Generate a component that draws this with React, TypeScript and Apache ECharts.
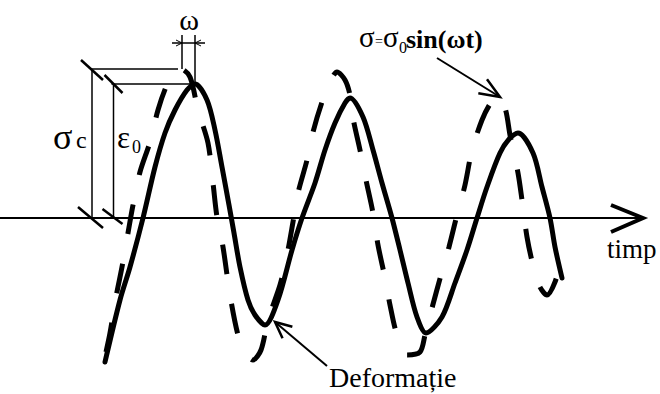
import React, { useEffect, useRef } from "react";
import * as echarts from "echarts";

// Applied stress σ = σ0·sin(ωt) (dashed curve)
const stressTime = [
  10.6, 11.0, 11.6, 12.2, 12.8, 13.3, 14.0, 15.0, 15.8, 16.6, 17.4, 18.1, 19.0, 19.8, 20.8,
  21.3, 21.7, 22.3, 23.0, 23.8, 24.5, 25.3, 26.1, 26.8, 28.0, 28.7, 29.3, 29.8, 30.7, 31.3,
  32.2, 33.0, 33.7, 34.5, 35.0, 35.3, 36.0, 36.6, 37.3, 37.8, 38.5, 39.0, 39.7, 40.7, 42.0,
  42.5, 43.2, 44.1, 44.9, 45.7, 46.5, 47.2, 48.2, 49.0, 49.7, 50.5, 51.0, 51.8, 52.2, 52.7,
  53.3, 54.0, 54.7, 55.5, 56.2,
];
const stressValue = [
  -13.4, -11.5, -7.9, -4.9, -1.5, 1.3, 4.6, 7.6, 10.8, 13.1, 14.5, 14.9, 14.1, 10.8, 7.5,
  3.5, 0.1, -2.9, -7.7, -11.7, -13.4, -14.2, -13.2, -10.2, -6.7, -3.7, -0.4, 2.5, 5.8, 8.6,
  11.6, 13.6, 14.6, 13.8, 12.3, 10.0, 6.8, 3.8, 0.5, -2.7, -6.0, -8.7, -11.7, -13.7, -13.4,
  -11.7, -9.0, -5.7, -2.9, 0.3, 3.3, 6.8, 9.8, 11.4, 12.2, 11.0, 8.3, 4.5, 1.8, -1.9,
  -4.7, -6.9, -7.7, -6.4, -3.9,
];

// Resulting deformation ε(t), lagging the stress (solid curve)
const strainTime = [
  10.5, 12.0, 13.0, 14.3, 15.5, 16.5, 17.5, 18.7, 19.5, 20.7, 21.5, 22.2, 22.9, 23.4, 24.0,
  24.8, 25.5, 26.5, 27.8, 29.2, 30.2, 31.5, 32.5, 33.5, 34.5, 35.0, 36.3, 37.3, 38.2, 39.2,
  40.0, 40.8, 41.7, 42.6, 44.2, 45.5, 46.7, 47.7, 48.7, 50.0, 51.0, 51.8, 53.3, 54.2, 55.0,
  55.5, 56.2,
];
const strainValue = [
  -14.4, -8.2, -4.9, 0.0, 5.1, 8.5, 10.8, 12.8, 13.4, 11.8, 8.8, 5.1, 1.3, -1.5, -4.9,
  -8.2, -9.7, -10.7, -8.2, -3.2, 0.0, 3.5, 6.8, 9.5, 11.5, 12.0, 10.1, 6.8, 3.5, 0.0,
  -3.2, -6.5, -9.9, -11.5, -9.9, -6.5, -3.2, 0.0, 3.1, 6.5, 8.0, 8.5, 6.5, 3.1, 0.0,
  -2.9, -6.0,
];

// Time axis and annotation levels (same units as the curves)
const axisEnd = 64.3;
const omegaTop = 18.3;
const omegaDimLevel = 17.5;
const sigmaBracketT = 9.2;
const epsBracketT = 11.35;

const FONT = '"Liberation Serif", "Times New Roman", serif';

type Pt = [number, number];

const seg = (a: Pt, b: Pt, w: number) => ({
  type: "line",
  silent: true,
  shape: { x1: a[0], y1: a[1], x2: b[0], y2: b[1] },
  style: { stroke: "#000", lineWidth: w, lineCap: "butt" },
});

const poly = (pts: Pt[], w: number) => ({
  type: "polyline",
  silent: true,
  shape: { points: pts },
  style: { stroke: "#000", lineWidth: w, fill: null, lineJoin: "miter" },
});

const label = (
  str: string,
  x: number,
  y: number,
  size: number,
  weight: string = "normal",
  align: string = "left"
) => ({
  type: "text",
  silent: true,
  x,
  y,
  style: {
    text: str,
    fontFamily: FONT,
    fontSize: size,
    fontWeight: weight,
    fill: "#000",
    align,
    verticalAlign: "middle",
    textAlign: align,
    textVerticalAlign: "middle",
  },
});

// Open V-shaped arrow head at `tip`, pointing away from `from`
const arrowHead = (tip: Pt, from: Pt, len: number, deg: number, w: number) => {
  const ang = Math.atan2(from[1] - tip[1], from[0] - tip[0]);
  const a = (deg * Math.PI) / 180;
  const p1: Pt = [tip[0] + len * Math.cos(ang + a), tip[1] + len * Math.sin(ang + a)];
  const p2: Pt = [tip[0] + len * Math.cos(ang - a), tip[1] + len * Math.sin(ang - a)];
  return poly([p1, tip, p2], w);
};

export default function App() {
  const ref = useRef<HTMLDivElement>(null);

  useEffect(() => {
    if (!ref.current) return;
    const chart = echarts.init(ref.current, null, { renderer: "svg" });
    const zip = (t: number[], v: number[]) => t.map((x, i) => [x, v[i]]);

    chart.setOption({
      animation: false,
      backgroundColor: "#fff",
      grid: { left: 0, right: 0, top: 0, bottom: 0 },
      xAxis: { type: "value", min: 0, max: 66, show: false },
      yAxis: { type: "value", min: -17.6, max: 21.8, show: false },
      series: [
        {
          name: "Deformație",
          type: "line",
          data: zip(strainTime, strainValue),
          smooth: 0.3,
          showSymbol: false,
          lineStyle: { color: "#000", width: 5, cap: "round" },
        },
        {
          name: "σ",
          type: "line",
          data: zip(stressTime, stressValue),
          smooth: 0.3,
          showSymbol: false,
          lineStyle: { color: "#000", width: 5, type: [30, 30], cap: "butt" },
        },
      ],
    });

    const px = (t: number, v: number): Pt =>
      chart.convertToPixel({ gridIndex: 0 }, [t, v]) as Pt;

    // First peaks of each curve define σc / ε0 and the lag ω
    const sIdx = stressValue.indexOf(Math.max(...stressValue));
    const eIdx = strainValue.indexOf(Math.max(...strainValue));
    const sigma0 = stressValue[sIdx];
    const sigmaT = stressTime[sIdx];
    const eps0 = strainValue[eIdx];
    const epsT = strainTime[eIdx];

    const origin = px(0, 0);
    const tip = px(axisEnd, 0);

    const sTop = px(sigmaBracketT, sigma0);
    const sBot = px(sigmaBracketT, 0);
    const eTop = px(epsBracketT, eps0);
    const eBot = px(epsBracketT, 0);

    const wL = px(sigmaT + 0.1, omegaTop);
    const wLb = px(sigmaT + 0.1, sigma0);
    const wR = px(epsT, omegaTop);
    const wRb = px(epsT, eps0);
    const wDimL = px(sigmaT - 0.9, omegaDimLevel);
    const wDimR = px(epsT + 1.0, omegaDimLevel);

    const fTail: Pt = [437, 58];
    const fTip: Pt = [500, 97];
    const dTail: Pt = [327, 366];
    const dTip: Pt = [275, 322];

    const graphic: any[] = [
      // time axis with open arrow
      seg(origin, tip, 2),
      poly([[tip[0] - 32, tip[1] - 13], tip, [tip[0] - 32, tip[1] + 14]], 4),

      // σc bracket
      seg([sTop[0], sTop[1] + 1], sBot, 1.5),
      seg([sTop[0] - 2, sTop[1]], px(sigmaT - 0.3, sigma0), 1.5),
      seg([sTop[0] - 11, sTop[1] - 9], [sTop[0] + 11, sTop[1] + 11], 2.5),
      seg([sBot[0] - 14, sBot[1] - 11], [sBot[0] + 11, sBot[1] + 10], 2.5),

      // ε0 bracket
      seg(eTop, eBot, 1.5),
      seg([eTop[0] - 2, eTop[1]], px(epsT - 0.1, eps0), 1.5),
      seg([eTop[0] - 9, eTop[1] - 9], [eTop[0] + 9, eTop[1] + 9], 2.5),
      seg([eBot[0] - 11, eBot[1] - 9], [eBot[0] + 9, eBot[1] + 6], 2.5),

      // ω phase-lag dimension
      seg(wL, wLb, 1.5),
      seg(wR, wRb, 1.5),
      seg(wDimL, wDimR, 1.5),
      poly([[wL[0] - 6, wDimL[1] - 3], [wL[0], wDimL[1]], [wL[0] - 6, wDimL[1] + 3]], 1),
      poly([[wR[0] + 6, wDimR[1] - 3], [wR[0], wDimR[1]], [wR[0] + 6, wDimR[1] + 3]], 1),

      // leader arrows
      seg(fTail, fTip, 2),
      arrowHead(fTip, fTail, 22, 22, 2.5),
      seg(dTail, dTip, 2),
      arrowHead(dTip, dTail, 18, 25, 2.5),

      // labels
      label("ω", 189, 19, 30, "normal", "center"),
      label("σ", 53, 137, 36),
      label("c", 76, 140, 24),
      label("ε", 117, 137, 31),
      label("0", 132, 147, 18),
      label("σ", 359, 37, 29),
      label("=", 375, 41, 14),
      label("σ", 383, 37, 29),
      label("0", 399, 47, 16),
      label("sin(ωt)", 406, 39, 26, "bold"),
      label("timp", 607, 249, 27),
      label("Deformație", 329, 377, 28),
    ];

    chart.setOption({ graphic });

    return () => chart.dispose();
  }, []);

  return (
    <div
      ref={ref}
      style={{ position: "fixed", left: 0, top: 0, width: 660, height: 394, background: "#fff" }}
    />
  );
}
